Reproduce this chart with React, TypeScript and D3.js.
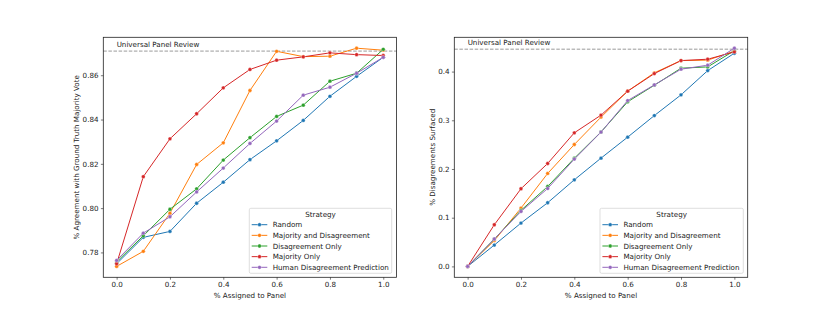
import { useRef, useEffect } from 'react';
import * as d3 from 'd3';

// dados
const fracoes = [0, 0.1, 0.2, 0.3, 0.4, 0.5, 0.6, 0.7, 0.8, 0.9, 1.0];
const estrategias = ['Random', 'Majority and Disagreement', 'Disagreement Only', 'Majority Only', 'Human Disagreement Prediction'];
const cores = ['#1f77b4', '#ff7f0e', '#2ca02c', '#d62728', '#9467bd'];

// grafico da esquerda: concordancia
const acordoRandom = [0.7749, 0.7868, 0.7895, 0.8022, 0.8117, 0.8219, 0.8304, 0.8396, 0.8505, 0.8595, 0.8681];
const acordoMajDis = [0.7737, 0.7805, 0.7977, 0.8197, 0.8295, 0.8531, 0.8708, 0.8684, 0.8686, 0.8722, 0.8713];
const acordoDis = [0.7757, 0.7875, 0.7995, 0.8087, 0.8217, 0.8318, 0.8414, 0.8465, 0.8573, 0.8609, 0.8717];
const acordoMaj = [0.7749, 0.8142, 0.8313, 0.8426, 0.8543, 0.8626, 0.8668, 0.8683, 0.8701, 0.8693, 0.8689];
const acordoHuman = [0.7764, 0.7887, 0.7961, 0.8073, 0.8181, 0.8292, 0.8393, 0.8510, 0.8546, 0.8609, 0.8681];
const acordoUniversal = 0.8709;
const yTicksEsq = [0.78, 0.80, 0.82, 0.84, 0.86];

// grafico da direita: desacordos encontrados
const desRandom = [0, 0.0438, 0.089, 0.1307, 0.1778, 0.2223, 0.2654, 0.3097, 0.3522, 0.402, 0.4377];
const desMajDis = [0, 0.053, 0.1197, 0.1908, 0.2503, 0.3065, 0.3598, 0.3975, 0.4226, 0.4235, 0.442];
const desDis = [0, 0.056, 0.115, 0.164, 0.222, 0.276, 0.338, 0.372, 0.407, 0.4096, 0.443];
const desMaj = [0, 0.0855, 0.1594, 0.2113, 0.2743, 0.3106, 0.3598, 0.3959, 0.4226, 0.4254, 0.4404];
const desHuman = [0, 0.0562, 0.1128, 0.16, 0.2203, 0.2757, 0.3405, 0.3727, 0.4049, 0.4131, 0.448];
const desUniversal = 0.446;
const yTicksDir = [0.0, 0.1, 0.2, 0.3, 0.4];

const xTicks = [0, 0.2, 0.4, 0.6, 0.8, 1.0];

const FONTE = 'DejaVu Sans, sans-serif';
const FS = 7.15;

const desenhaPainel = (svg, cfg) => {
  const { left, right, top, bottom, series, universal, yTicks, yFmt, yLabel, yLabelX, legendX, legendW } = cfg;

  const todos = series.flat().concat([universal]);
  const yMin = d3.min(todos), yMax = d3.max(todos);
  const pad = (yMax - yMin) * 0.05;

  const XSc = d3.scaleLinear().domain([-0.05, 1.05]).range([left, right]);
  const YSc = d3.scaleLinear().domain([yMin - pad, yMax + pad]).range([bottom, top]);

  const g = svg.append('g');

  // eixos
  const gx = g.append('g')
    .attr('transform', `translate(0,${bottom})`)
    .call(d3.axisBottom(XSc).tickValues(xTicks).tickFormat(d3.format('.1f')).tickSize(2.4).tickPadding(2.4));
  const gy = g.append('g')
    .attr('transform', `translate(${left},0)`)
    .call(d3.axisLeft(YSc).tickValues(yTicks).tickFormat(d3.format(yFmt)).tickSize(2.4).tickPadding(2.4));

  [gx, gy].forEach((ax) => {
    ax.select('.domain').remove();
    ax.selectAll('.tick line').attr('stroke', '#222').attr('stroke-width', 0.6);
    ax.selectAll('text').attr('fill', '#222').style('font-size', `${FS}px`).style('font-family', FONTE);
  });

  // linha do painel universal
  g.append('line')
    .attr('x1', left).attr('x2', right)
    .attr('y1', YSc(universal)).attr('y2', YSc(universal))
    .attr('stroke', '#808080').attr('stroke-width', 0.8).attr('stroke-dasharray', '3.5,1.6');

  g.append('text')
    .attr('x', XSc(0)).attr('y', YSc(universal) - 4.5)
    .attr('fill', '#222').style('font-size', `${FS}px`).style('font-family', FONTE)
    .text('Universal Panel Review');

  // series
  const linha = d3.line().x((d, i) => XSc(fracoes[i])).y((d) => YSc(d));
  series.forEach((valores, s) => {
    g.append('path')
      .attr('d', linha(valores))
      .attr('fill', 'none')
      .attr('stroke', cores[s])
      .attr('stroke-width', 1);
    g.selectAll(`.pt${s}`)
      .data(valores)
      .join('circle')
      .attr('class', `pt${s}`)
      .attr('cx', (d, i) => XSc(fracoes[i]))
      .attr('cy', (d) => YSc(d))
      .attr('r', 1.9)
      .attr('fill', cores[s])
      .attr('stroke', 'white')
      .attr('stroke-width', 0.35);
  });

  // moldura
  g.append('rect')
    .attr('x', left).attr('y', top)
    .attr('width', right - left).attr('height', bottom - top)
    .attr('fill', 'none').attr('stroke', '#222').attr('stroke-width', 0.8);

  // rotulos dos eixos
  g.append('text')
    .attr('x', (left + right) / 2).attr('y', bottom + 21)
    .attr('text-anchor', 'middle')
    .attr('fill', '#222').style('font-size', `${FS}px`).style('font-family', FONTE)
    .text('% Assigned to Panel');

  g.append('text')
    .attr('transform', `translate(${yLabelX},${(top + bottom) / 2}) rotate(-90)`)
    .attr('text-anchor', 'middle')
    .attr('dominant-baseline', 'central')
    .attr('fill', '#222').style('font-size', `${FS}px`).style('font-family', FONTE)
    .text(yLabel);

  // legenda
  const lx = legendX;
  const ly = 208.3;
  const lw = legendW;
  const leg = g.append('g');
  leg.append('rect')
    .attr('x', lx).attr('y', ly).attr('width', lw).attr('height', 65)
    .attr('rx', 1.5)
    .attr('fill', 'white').attr('fill-opacity', 0.85)
    .attr('stroke', '#d0d0d0').attr('stroke-width', 0.7);
  leg.append('text')
    .attr('x', lx + lw / 2).attr('y', ly + 8.3)
    .attr('text-anchor', 'middle')
    .attr('fill', '#222').style('font-size', `${FS}px`).style('font-family', FONTE)
    .text('Strategy');
  estrategias.forEach((nome, s) => {
    const yy = ly + 16.4 + s * 10.65;
    leg.append('line')
      .attr('x1', lx + 2.4).attr('x2', lx + 18)
      .attr('y1', yy).attr('y2', yy)
      .attr('stroke', cores[s]).attr('stroke-width', 1);
    leg.append('circle')
      .attr('cx', lx + 10.2).attr('cy', yy).attr('r', 1.9)
      .attr('fill', cores[s]).attr('stroke', 'white').attr('stroke-width', 0.35);
    leg.append('text')
      .attr('x', lx + 23.4).attr('y', yy)
      .attr('dominant-baseline', 'central')
      .attr('fill', '#222').style('font-size', `${FS}px`).style('font-family', FONTE)
      .text(nome);
  });
};

const App = () => {
  const chartRef = useRef(null);

  useEffect(() => {
    const svg = d3.select(chartRef.current);
    svg.selectAll('*').remove();

    desenhaPainel(svg, {
      left: 103.3, right: 396.6, top: 37.3, bottom: 277.3,
      series: [acordoRandom, acordoMajDis, acordoDis, acordoMaj, acordoHuman],
      universal: acordoUniversal,
      yTicks: yTicksEsq, yFmt: '.2f',
      yLabel: '% Agreement with Ground Truth Majority Vote', yLabelX: 76,
      legendX: 249.3, legendW: 142.4,
    });

    desenhaPainel(svg, {
      left: 454.3, right: 747.7, top: 37.3, bottom: 277.3,
      series: [desRandom, desMajDis, desDis, desMaj, desHuman],
      universal: desUniversal,
      yTicks: yTicksDir, yFmt: '.1f',
      yLabel: '% Disagreements Surfaced', yLabelX: 432,
      legendX: 600, legendW: 143.3,
    });
  }, []);

  return (
    <div style={{ position: 'absolute', left: 0, top: 0, width: 830, height: 312, background: 'white' }}>
      <svg ref={chartRef} width={830} height={312} style={{ display: 'block' }}></svg>
    </div>
  );
};

export default App;
